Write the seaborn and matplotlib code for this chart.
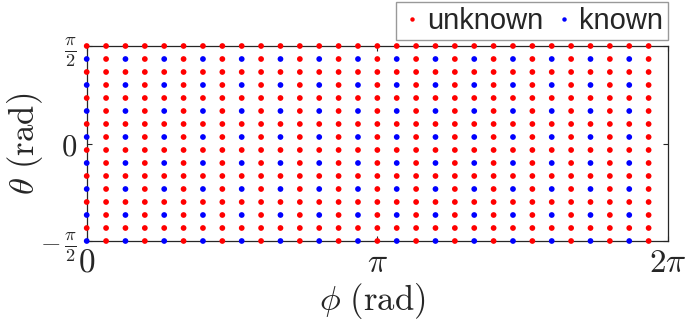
import numpy as np
import pandas as pd
import matplotlib
matplotlib.use("Agg")
import matplotlib.pyplot as plt
import seaborn as sns

# ---- data (grid indices; phi step = 2*pi/30, theta step = pi/15) ----
phi_steps = [0, 1, 2, 3, 4, 5, 6, 7, 8, 9, 10, 11, 12, 13, 14,
             15, 16, 17, 18, 19, 20, 21, 22, 23, 24, 25, 26, 27, 28, 29]
theta_steps = [0, 1, 2, 3, 4, 5, 6, 7, 8, 9, 10, 11, 12, 13, 14, 15]
known_phi_steps = [0, 2, 4, 6, 8, 10, 12, 14, 16, 18, 20, 22, 24, 26, 28]
known_theta_steps = [0, 2, 4, 6, 8, 10, 12, 14]
phi_step = 2 * np.pi / 30
theta_step = np.pi / 15
theta_start = -np.pi / 2

categories = ["unknown", "known"]
colors = ["#ff0000", "#0000ff"]
x_tick_values = [0, np.pi, 2 * np.pi]
x_tick_labels = [r"$0$", r"$\pi$", r"$2\pi$"]
y_tick_values = [-np.pi / 2, 0, np.pi / 2]
y_tick_labels = [r"$-\,\frac{\pi}{2}$", r"$0$", r"$\frac{\pi}{2}$"]

rows = []
for i in phi_steps:
    for j in theta_steps:
        status = "known" if (i in known_phi_steps and j in known_theta_steps) else "unknown"
        rows.append({"phi": i * phi_step, "theta": theta_start + j * theta_step, "status": status})
df = pd.DataFrame(rows)

sns.set_style("white")
plt.rcParams["mathtext.fontset"] = "cm"
plt.rcParams["font.family"] = ["Liberation Sans", "DejaVu Sans"]

fig = plt.figure(figsize=(6.85, 3.21), dpi=100)
ax = fig.add_axes([86.7 / 685, 1 - 241 / 321, (668 - 86.7) / 685, (241 - 46) / 321])

sns.scatterplot(data=df, x="phi", y="theta", hue="status", hue_order=categories,
                palette=dict(zip(categories, colors)), s=17, linewidth=0,
                ax=ax, clip_on=False, zorder=3, legend=True)

ax.set_xlim(0, 2 * np.pi)
ax.set_ylim(-np.pi / 2, np.pi / 2)
ax.set_xticks(x_tick_values)
ax.set_xticklabels(x_tick_labels, fontsize=24)
ax.set_yticks(y_tick_values)
ax.set_yticklabels(y_tick_labels, fontsize=22)
ylabs = ax.get_yticklabels()
ylabs[0].set_fontsize(19)
ylabs[2].set_fontsize(19)
ax.tick_params(axis="both", direction="in", length=3.6, width=0.8, color="#262626",
               top=True, right=True, bottom=True, left=True)
ax.tick_params(axis="x", pad=5)
ax.tick_params(axis="y", pad=7)
for sp in ax.spines.values():
    sp.set_visible(True)
    sp.set_color("#262626")
    sp.set_linewidth(0.9)

ax.set_xlabel(r"$\phi\ \mathrm{(rad)}$", fontsize=25)
ax.set_ylabel(r"$\theta\ \mathrm{(rad)}$", fontsize=25)
ax.xaxis.set_label_coords(0.491, -0.205)
ax.yaxis.set_label_coords(-0.072, 0.5)

handles, labels = ax.get_legend_handles_labels()
ax.get_legend().remove()
for h in handles:
    h.set_markersize(3.2)
leg = fig.legend(handles, labels, loc="upper right",
                 bbox_to_anchor=(668 / 685, 1 - 2 / 321), bbox_transform=fig.transFigure,
                 ncol=2, fontsize=21, frameon=True, fancybox=False,
                 borderpad=0.17, handletextpad=0.15, columnspacing=0.36,
                 handlelength=0.73, borderaxespad=0)
leg.get_frame().set_edgecolor("#808080")
leg.get_frame().set_linewidth(1.0)

fig.savefig("out.png", dpi=100)
